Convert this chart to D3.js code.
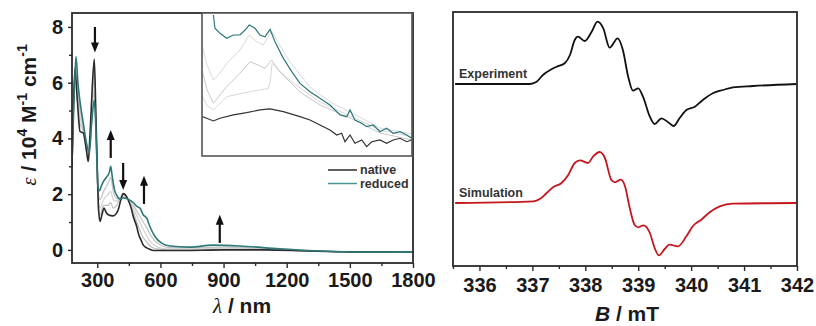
<!DOCTYPE html>
<html><head><meta charset="utf-8">
<script src="https://cdn.jsdelivr.net/npm/d3@7/dist/d3.min.js"></script>
<style>
html,body{margin:0;padding:0;background:#fff;}
svg{display:block;}
text{font-family:"Liberation Sans",Arial,sans-serif;}
</style></head>
<body><svg id="c" width="816" height="326"></svg>
<script>
// ---------- Left panel: UV-vis-NIR ----------
const uvXTicks = [300, 600, 900, 1200, 1500, 1800];
const uvXMinor = [450, 750, 1050, 1350, 1650];
const uvYTicks = [0, 2, 4, 6, 8];
const uvYMinor = [1, 3, 5, 7];

const nativeWl = [180,186,194,205,218,234,248,257,266,276,286,293,300,306,313,322,332,342,352,376,390,400,412,423,436,447,463,471,487,495,511,518,535,550,566,700,900,1100,1300,1500,1800];
const nativeEps = [3.0,5.0,6.5,5.4,4.25,4.19,3.6,3.17,4.2,5.8,6.84,5.0,3.0,1.5,1.02,1.25,1.5,1.35,1.26,1.22,1.3,1.45,1.8,2.02,1.95,1.79,1.45,1.2,0.85,0.6,0.3,0.18,0.07,0.02,-0.02,-0.02,0.0,0.0,-0.04,-0.07,-0.08];

const reducedWl = [180,190,199,208,215,231,246,262,274,286,292,297,303,310,320,329,345,352,358,364,370,376,384,392,408,423,447,471,490,503,518,535,550,574,606,645,740,850,977,1167,1357,1547,1800];
const reducedEps = [3.1,5.5,6.94,6.0,5.5,4.67,3.95,3.48,4.6,5.38,4.6,3.5,2.3,2.12,2.3,2.45,2.62,2.69,2.8,3.0,2.7,2.39,2.1,1.97,1.82,1.86,1.82,1.70,1.55,1.5,1.26,1.14,0.84,0.48,0.24,0.14,0.1,0.17,0.14,0.04,-0.04,-0.08,-0.08];

const midWl = [180,199,215,231,248,260,286,297,306,313,330,352,364,376,392,408,423,447,471,495,518,535,550,574,606,645,800,900,1100,1300,1500,1800];
const mid1Eps = [3.1,6.8,5.2,4.5,3.8,3.4,5.7,3.6,2.0,1.8,2.1,2.4,2.6,2.1,1.85,1.85,1.9,1.82,1.6,1.3,1.0,0.8,0.58,0.32,0.15,0.08,0.08,0.1,0.05,-0.02,-0.06,-0.08];
const mid2Eps = [3.0,6.7,4.9,4.4,3.7,3.3,6.1,3.5,1.7,1.5,1.8,2.0,2.1,1.8,1.75,1.9,1.95,1.8,1.5,1.1,0.75,0.5,0.32,0.15,0.06,0.04,0.04,0.06,0.03,-0.03,-0.07,-0.08];
const mid3Eps = [3.0,6.6,4.6,4.3,3.6,3.2,6.5,3.3,1.4,1.25,1.6,1.6,1.7,1.5,1.6,1.85,2.0,1.8,1.35,0.85,0.45,0.28,0.15,0.05,0.02,0.0,0.0,0.03,0.02,-0.03,-0.07,-0.08];

// arrows: wavelength, tail value, tip value
const arrowWl = [289, 364, 423, 522, 882];
const arrowFrom = [8.0, 3.3, 3.12, 1.65, 0.25];
const arrowTo = [7.08, 4.3, 2.15, 2.66, 1.26];

// inset (NIR enlargement, arbitrary units)
const insReducedWl = [665,674,703,741,779,817,846,870,903,931,960,989,1017,1065,1113,1160,1217,1274,1331,1389,1427,1446,1474,1513,1541,1579,1617,1655,1693,1731,1770,1798];
const insReducedV = [0.986,0.893,0.858,0.823,0.846,0.846,0.881,0.916,0.893,0.846,0.834,0.886,0.799,0.683,0.590,0.508,0.450,0.403,0.357,0.287,0.275,0.322,0.252,0.229,0.205,0.217,0.170,0.194,0.159,0.170,0.147,0.124];
const insNativeWl = [600,627,665,703,779,855,931,989,1065,1160,1217,1274,1331,1370,1398,1417,1446,1474,1513,1541,1570,1617,1655,1693,1731,1770,1798];
const insNativeV = [0.275,0.264,0.245,0.264,0.287,0.303,0.322,0.329,0.310,0.275,0.252,0.217,0.182,0.147,0.159,0.100,0.147,0.089,0.112,0.065,0.100,0.112,0.089,0.112,0.124,0.100,0.112];
const insMidAWl = [600,629,665,703,741,817,870,913,950,998,1034,1103,1217,1331,1446,1617,1800];
const insMidAV = [0.776,0.636,0.531,0.580,0.648,0.741,0.846,0.799,0.776,0.874,0.797,0.657,0.483,0.378,0.308,0.196,0.154];
const insMidBWl = [600,629,665,741,817,874,922,960,998,1046,1160,1274,1446,1617,1800];
const insMidBV = [0.601,0.462,0.369,0.485,0.578,0.659,0.636,0.613,0.671,0.587,0.448,0.357,0.266,0.161,0.112];
const insMidCWl = [600,629,665,741,874,979,991,1000,1074,1160,1274,1446,1617,1800];
const insMidCV = [0.427,0.350,0.322,0.415,0.450,0.473,0.531,0.648,0.559,0.476,0.378,0.280,0.182,0.133];

const legendLabels = ["native", "reduced"];

// ---------- Right panel: EPR ----------
const eprXTicks = [336, 337, 338, 339, 340, 341, 342];
const eprXMinor = [335.5, 336.5, 337.5, 338.5, 339.5, 340.5, 341.5];
const expB = [335.54,336.95,337.08,337.20,337.36,337.46,337.61,337.71,337.80,337.86,337.99,338.12,338.23,338.34,338.46,338.61,338.71,338.81,338.90,339.00,339.09,339.22,339.31,339.44,339.56,339.67,339.78,339.91,340.07,340.22,340.41,340.60,340.79,341.17,341.99];
const expI = [0,0,0.23,0.9,1.47,1.73,2.07,2.9,4.4,4.73,4.3,5.23,6.23,5.57,3.63,4.57,3.4,0.73,-0.67,-0.43,-1.27,-3.27,-4.0,-3.43,-3.8,-4.2,-3.43,-2.6,-2.27,-1.6,-0.93,-0.6,-0.33,-0.2,0];
const simB = [335.54,337.02,337.14,337.27,337.39,337.55,337.68,337.80,337.90,338.05,338.15,338.27,338.37,338.49,338.56,338.67,338.75,338.84,338.93,339.00,339.10,339.22,339.31,339.39,339.50,339.59,339.75,339.91,340.03,340.19,340.35,340.54,340.79,341.99];
const simI = [0,0.17,0.4,1.0,1.57,2.0,2.83,4.0,4.27,4.0,4.67,5.1,4.5,2.33,2.07,2.33,1.67,-0.5,-2.17,-2.43,-2.23,-3.0,-4.5,-5.23,-4.6,-4.17,-4.33,-3.33,-2.33,-1.67,-0.93,-0.33,-0.07,0];
const traceOffsets = [0, -11.9];
const traceLabels = ["Experiment", "Simulation"];

// ---------- drawing ----------
const svg = d3.select("#c");
const INK = "#2b2b2b";
const TEAL = "#2f7878";
const RED = "#c4161c";

// Left scales
const L = {x0: 72, x1: 413, y0: 13, y1: 263};
const xL = d3.scaleLinear().domain([180, 1800]).range([L.x0, L.x1]);
const yL = d3.scaleLinear().domain([-0.47, 8.5]).range([L.y1, L.y0]);

svg.append("clipPath").attr("id","clipL").append("rect")
  .attr("x", L.x0).attr("y", L.y0).attr("width", L.x1-L.x0).attr("height", L.y1-L.y0);

const lineL = d3.line().x(d=>xL(d[0])).y(d=>yL(d[1])).curve(d3.curveMonotoneX);
const gL = svg.append("g").attr("clip-path","url(#clipL)");
const zip = (a,b)=>a.map((v,i)=>[v,b[i]]);

gL.append("path").datum(zip(midWl, mid3Eps)).attr("d", lineL).attr("fill","none").attr("stroke","#bdbdbd").attr("stroke-width",1.2);
gL.append("path").datum(zip(midWl, mid2Eps)).attr("d", lineL).attr("fill","none").attr("stroke","#d2d2d2").attr("stroke-width",1.2);
gL.append("path").datum(zip(midWl, mid1Eps)).attr("d", lineL).attr("fill","none").attr("stroke","#c4c4c4").attr("stroke-width",1.2);
gL.append("path").datum(zip(nativeWl, nativeEps)).attr("d", lineL).attr("fill","none").attr("stroke",INK).attr("stroke-width",1.6);
gL.append("path").datum(zip(reducedWl, reducedEps)).attr("d", lineL).attr("fill","none").attr("stroke",TEAL).attr("stroke-width",1.6);

// arrows
arrowWl.forEach((w,i)=>{
  const x = xL(w), ya = yL(arrowFrom[i]), yb = yL(arrowTo[i]);
  const dir = yb > ya ? 1 : -1;
  const hl = 10, hw = 4;
  svg.append("line").attr("x1",x).attr("x2",x).attr("y1",ya).attr("y2",yb - dir*hl+dir*1)
    .attr("stroke","#111").attr("stroke-width",2.2);
  svg.append("path").attr("d",`M${x-hw},${yb-dir*hl}L${x+hw},${yb-dir*hl}L${x},${yb}Z`).attr("fill","#111");
});

// axes left
svg.append("g").attr("transform",`translate(0,${L.y1})`)
  .call(d3.axisBottom(xL).tickValues(uvXTicks).tickSize(5).tickPadding(5).tickFormat(d3.format("d")));
svg.append("g").attr("transform",`translate(0,${L.y1})`)
  .call(d3.axisBottom(xL).tickValues(uvXMinor).tickSize(3).tickFormat(""));
svg.append("g").attr("transform",`translate(${L.x0},0)`)
  .call(d3.axisLeft(yL).tickValues(uvYTicks).tickSize(4).tickPadding(5).tickFormat(d3.format("d")));
svg.append("g").attr("transform",`translate(${L.x0},0)`)
  .call(d3.axisLeft(yL).tickValues(uvYMinor).tickSize(3).tickFormat(""));

svg.append("rect").attr("x",L.x0).attr("y",L.y0).attr("width",L.x1-L.x0).attr("height",L.y1-L.y0)
  .attr("fill","none").attr("stroke",INK).attr("stroke-width",1.8);

// inset
const I = {x0: 202, x1: 412, y0: 13, y1: 156};
const xI = d3.scaleLinear().domain([600, 1800]).range([I.x0, I.x1]);
const yI = d3.scaleLinear().domain([0, 1]).range([I.y1, I.y0]);
svg.append("rect").attr("x",I.x0).attr("y",I.y0).attr("width",I.x1-I.x0).attr("height",I.y1-I.y0).attr("fill","#fff");
svg.append("clipPath").attr("id","clipI").append("rect")
  .attr("x", I.x0).attr("y", I.y0).attr("width", I.x1-I.x0).attr("height", I.y1-I.y0);
const gI = svg.append("g").attr("clip-path","url(#clipI)");
const lineI = d3.line().x(d=>xI(d[0])).y(d=>yI(d[1])).curve(d3.curveLinear);
gI.append("path").datum(zip(insMidCWl, insMidCV)).attr("d", lineI).attr("fill","none").attr("stroke","#d8d8d8").attr("stroke-width",1);
gI.append("path").datum(zip(insMidBWl, insMidBV)).attr("d", lineI).attr("fill","none").attr("stroke","#c8c8c8").attr("stroke-width",1);
gI.append("path").datum(zip(insMidAWl, insMidAV)).attr("d", lineI).attr("fill","none").attr("stroke","#dadada").attr("stroke-width",1);
gI.append("path").datum(zip(insNativeWl, insNativeV)).attr("d", lineI).attr("fill","none").attr("stroke","#333").attr("stroke-width",1.2);
gI.append("path").datum(zip(insReducedWl, insReducedV)).attr("d", lineI).attr("fill","none").attr("stroke",TEAL).attr("stroke-width",1.2);
svg.append("rect").attr("x",I.x0).attr("y",I.y0).attr("width",I.x1-I.x0).attr("height",I.y1-I.y0)
  .attr("fill","none").attr("stroke","#555").attr("stroke-width",1.6);

// legend
const legColors = [INK, "#4a9494"];
legendLabels.forEach((t,i)=>{
  const y = 170 + i*13.5;
  svg.append("line").attr("x1",328).attr("x2",357).attr("y1",y).attr("y2",y).attr("stroke",legColors[i]).attr("stroke-width",1.5);
  svg.append("text").attr("x",360).attr("y",y+4).attr("font-size",12.5).attr("font-weight","bold").attr("fill","#333").text(t);
});

// Right scales
const R = {x0: 453, x1: 797, y0: 12, y1: 266};
const xR = d3.scaleLinear().domain([335.5, 342]).range([R.x0, R.x1]);
const yR = d3.scaleLinear().domain([-18.2, 7.2]).range([R.y1, R.y0]);
const lineR = d3.line().x(d=>xR(d[0])).y(d=>yR(d[1])).curve(d3.curveMonotoneX);
svg.append("path").datum(zip(expB, expI.map(v=>v+traceOffsets[0]))).attr("d", lineR).attr("fill","none").attr("stroke","#111").attr("stroke-width",1.8);
svg.append("path").datum(zip(simB, simI.map(v=>v+traceOffsets[1]))).attr("d", lineR).attr("fill","none").attr("stroke",RED).attr("stroke-width",1.8);
traceLabels.forEach((t,i)=>{
  svg.append("text").attr("x",459).attr("y",yR(traceOffsets[i])-6).attr("font-size",12.5).attr("font-weight","bold").attr("fill","#333").text(t);
});

svg.append("g").attr("transform",`translate(0,${R.y1})`)
  .call(d3.axisBottom(xR).tickValues(eprXTicks).tickSize(5).tickPadding(7).tickFormat(d3.format("d")));
svg.append("g").attr("transform",`translate(0,${R.y1})`)
  .call(d3.axisBottom(xR).tickValues(eprXMinor).tickSize(3).tickFormat(""));
svg.append("rect").attr("x",R.x0).attr("y",R.y0).attr("width",R.x1-R.x0).attr("height",R.y1-R.y0)
  .attr("fill","none").attr("stroke",INK).attr("stroke-width",1.8);

// axis styling
svg.selectAll(".domain").remove();
svg.selectAll(".tick line").attr("stroke",INK).attr("stroke-width",1.4);
svg.selectAll(".tick text").attr("font-family",'"Liberation Sans",Arial,sans-serif')
  .attr("font-size",20).attr("font-weight","bold").attr("fill","#1a1a1a");

// axis titles
const xt = svg.append("text").attr("x",242).attr("y",313).attr("text-anchor","middle")
  .attr("font-size",21).attr("font-weight","bold").attr("fill","#1a1a1a");
xt.append("tspan").attr("font-family",'"Liberation Serif",serif').attr("font-style","italic").attr("font-weight","normal").text("λ");
xt.append("tspan").text(" / nm");

const bt = svg.append("text").attr("x",627).attr("y",321).attr("text-anchor","middle")
  .attr("font-size",21).attr("font-weight","bold").attr("fill","#1a1a1a");
bt.append("tspan").attr("font-style","italic").text("B");
bt.append("tspan").text(" / mT");

const yt = svg.append("text").attr("transform","translate(36,115) rotate(-90)").attr("text-anchor","middle")
  .attr("font-size",21).attr("font-weight","bold").attr("fill","#1a1a1a");
yt.append("tspan").attr("font-family",'"Liberation Serif",serif').attr("font-style","italic").attr("font-weight","normal").text("ε");
yt.append("tspan").text(" / 10");
yt.append("tspan").attr("font-size",14).attr("dy",-9).text("4");
yt.append("tspan").attr("dy",9).text(" M");
yt.append("tspan").attr("font-size",14).attr("dy",-9).text("-1");
yt.append("tspan").attr("dy",9).text(" cm");
yt.append("tspan").attr("font-size",14).attr("dy",-9).text("-1");
</script></body></html>
